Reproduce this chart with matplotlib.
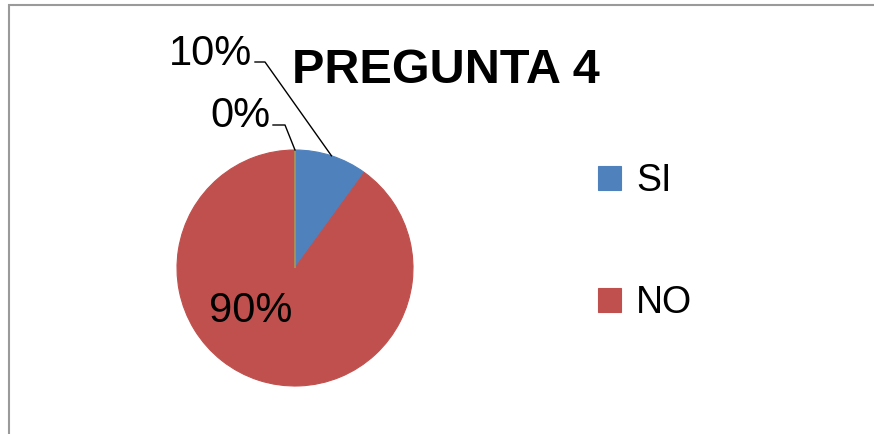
import matplotlib.pyplot as plt
import numpy as np
from matplotlib.patches import Rectangle

# data
categories = ["SI", "NO", ""]
values = [10, 90, 0]
pct_labels = ["10%", "90%", "0%"]
colors = ["#4F81BD", "#C0504D", "#9BBB59"]
title = "PREGUNTA 4"

W, H = 874, 434
plt.rcParams['font.family'] = ['Liberation Sans', 'DejaVu Sans']

fig = plt.figure(figsize=(W / 100, H / 100), dpi=100)


def px(x, y):
    # pixel (from top-left) -> figure fraction
    return x / W, 1 - y / H


# chart border (runs off the right and bottom edge)
fig.patches.append(Rectangle(px(8.5, 440), (W + 10) / W, 435 / H, transform=fig.transFigure,
                             fill=False, edgecolor="#9a9a9a", linewidth=1.5, zorder=0))

cx, cy, r = 295, 268, 118
ax = fig.add_axes([(cx - r) / W, 1 - (cy + r) / H, 2 * r / W, 2 * r / H])
wedges, _ = ax.pie(values, colors=colors, startangle=90, counterclock=False,
                   wedgeprops=dict(linewidth=0.8))
for w, c in zip(wedges, colors):
    w.set_edgecolor(c)
ax.set_xlim(-1, 1)
ax.set_ylim(-1, 1)
ax.set_aspect("auto")
ax.axis("off")


def d2p(x, y):
    # data coords of the pie -> pixels
    return cx + x * r, cy - y * r


def fig_line(points):
    xs = [p[0] / W for p in points]
    ys = [1 - p[1] / H for p in points]
    fig.add_artist(plt.Line2D(xs, ys, transform=fig.transFigure, color="black", linewidth=1))


# leader lines to slice midpoints
ang_si = np.deg2rad(90 - values[0] / sum(values) * 180)
fig_line([(255, 62), (265, 62), d2p(np.cos(ang_si), np.sin(ang_si))])
fig_line([(273, 125), (285, 125), d2p(0, 1)])

lab_kw = dict(fontsize=30, color="black", va="baseline")
fig.text(*px(252, 65), pct_labels[0], ha="right", **lab_kw)
fig.text(*px(270, 127), pct_labels[2], ha="right", **lab_kw)
fig.text(*px(251, 322), pct_labels[1], ha="center", **lab_kw)

fig.text(*px(446, 83), title, fontsize=35, fontweight="bold", ha="center", va="baseline")

leg = fig.legend(wedges[:2], categories[:2], loc="upper left",
                 bbox_to_anchor=px(598, 163), frameon=False, fontsize=27,
                 handlelength=0.62, handleheight=0.62, handletextpad=0.4,
                 labelspacing=2.3, borderpad=0, borderaxespad=0)

fig.savefig("out.png", dpi=100)
